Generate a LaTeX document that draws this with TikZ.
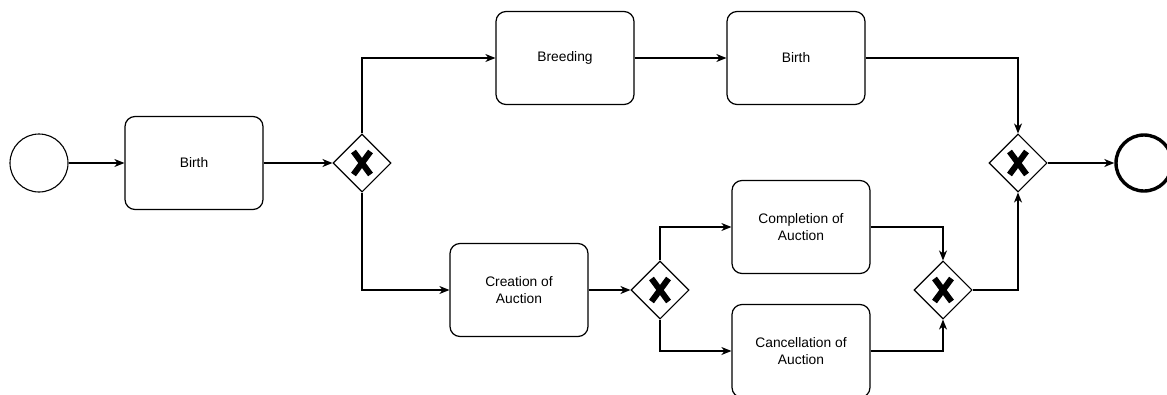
\documentclass[tikz,border=0pt]{standalone}
\usepackage{fontspec}
\setmainfont{Liberation Sans}
\usetikzlibrary{arrows.meta,shapes.geometric}
\begin{document}
\begin{tikzpicture}[x=1pt,y=-1pt,
  task/.style={draw, rounded corners=10pt, line width=1.2pt, minimum width=138pt,
    minimum height=93pt, align=center, font=\fontsize{13.8}{16.7}\selectfont, inner sep=2pt},
  gateway/.style={draw, diamond, line width=1.1pt, minimum width=58pt, minimum height=58pt,
    inner sep=0pt, aspect=1,
    path picture={
      \draw[line width=6pt, line cap=butt]
        ([shift={(-8.5pt,-11.5pt)}]path picture bounding box.center) -- ([shift={(8.5pt,11.5pt)}]path picture bounding box.center)
        ([shift={(-8.5pt,11.5pt)}]path picture bounding box.center) -- ([shift={(8.5pt,-11.5pt)}]path picture bounding box.center);
    }},
  startev/.style={draw, circle, line width=1.1pt, minimum size=58pt, inner sep=0pt},
  endev/.style={draw, circle, line width=3.4pt, minimum size=56pt, inner sep=0pt},
  flow/.style={line width=1.2pt, -{Stealth[length=10pt,width=8pt,inset=3pt]}}
]
\useasboundingbox (0,0) rectangle (1167,394);

% events
\node[startev] (s) at (39,163) {};
\node[endev] (e) at (1144,163) {};

% tasks
\node[task] (b1) at (194,163) {Birth};
\node[task] (br) at (565,58) {Breeding};
\node[task] (b2) at (796,58) {Birth};
\node[task] (ca) at (519,290) {Creation of\\Auction};
\node[task] (co) at (801,227) {Completion of\\Auction};
\node[task] (cn) at (801,351) {Cancellation of\\Auction};

% exclusive gateways
\node[gateway] (g1) at (362,163) {};
\node[gateway] (g2) at (660,290) {};
\node[gateway] (g3) at (943,290) {};
\node[gateway] (g4) at (1018,163) {};

% sequence flows
\draw[flow] (s) -- (b1);
\draw[flow] (b1) -- (g1);
\draw[flow] (g1.north) |- (br.west);
\draw[flow] (br) -- (b2);
\draw[flow] (b2.east) -| (g4.north);
\draw[flow] (g1.south) |- (ca.west);
\draw[flow] (ca) -- (g2);
\draw[flow] (g2.north) |- (co.west);
\draw[flow] (g2.south) |- (cn.west);
\draw[flow] (co.east) -| (g3.north);
\draw[flow] (cn.east) -| (g3.south);
\draw[flow] (g3.east) -| (g4.south);
\draw[flow] (g4) -- (e);
\end{tikzpicture}
\end{document}
